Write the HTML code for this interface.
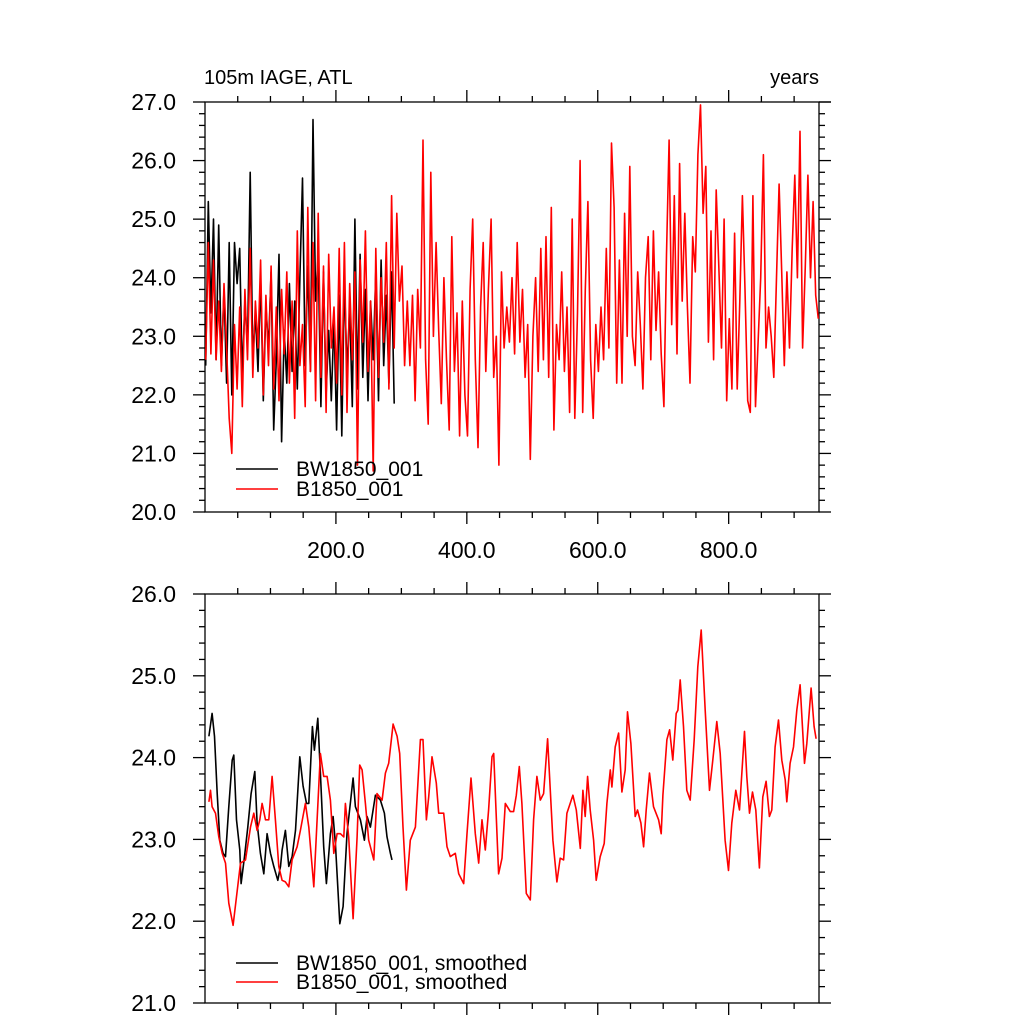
<!DOCTYPE html>
<html><head><meta charset="utf-8"><style>
html,body{margin:0;padding:0;background:#fff}
svg text{font-family:"Liberation Sans",sans-serif;fill:#000}
</style></head><body>
<svg id="chart" width="1024" height="1024" viewBox="0 0 1024 1024" xmlns="http://www.w3.org/2000/svg">
<text x="204" y="84" font-size="20">105m IAGE, ATL</text>
<text x="819" y="84" font-size="20" text-anchor="end">years</text>
<line x1="819" y1="102" x2="831" y2="102" stroke="#000" stroke-width="1.3"/>
<g id="topPanel"></g>
<g id="botPanel"></g>
<line x1="236" y1="469" x2="278" y2="469" stroke="#000" stroke-width="1.5"/>
<text x="296" y="476" font-size="21">BW1850_001</text>
<line x1="236" y1="489" x2="278" y2="489" stroke="#f00" stroke-width="1.5"/>
<text x="296" y="496" font-size="21">B1850_001</text>
<line x1="236" y1="963" x2="278" y2="963" stroke="#000" stroke-width="1.5"/>
<text x="296" y="970" font-size="21">BW1850_001, smoothed</text>
<line x1="236" y1="982" x2="278" y2="982" stroke="#f00" stroke-width="1.5"/>
<text x="296" y="989" font-size="21">B1850_001, smoothed</text>
</svg>
<script>
const rawStep = 4;
const redRaw = [
22.6,24.6,22.7,24.3,22.6,23.6,22.4,23.9,22.8,21.6,
21.0,23.2,22.1,23.5,21.8,23.8,22.6,24.5,22.3,23.6,
22.8,24.3,22.0,23.7,22.5,24.2,22.1,23.5,21.9,23.8,
22.7,24.1,22.2,23.6,21.6,24.8,22.5,23.2,21.8,25.2,
22.4,24.6,21.9,25.1,22.3,24.2,21.7,24.4,22.8,23.5,
22.2,24.5,22.0,24.6,21.7,23.9,22.6,24.1,20.8,24.3,
22.9,24.8,22.4,23.6,20.7,24.5,22.3,24.0,22.9,24.6,
22.1,25.4,22.8,25.1,23.6,24.2,22.5,23.6,22.5,23.7,
21.9,23.8,22.8,26.35,22.6,21.5,25.8,23.0,24.6,23.1,
21.85,24.0,22.6,21.4,24.7,22.4,23.4,21.3,23.6,22.0,
21.3,23.8,25.0,22.6,21.1,23.5,24.6,22.4,23.8,25.0,
22.3,23.0,20.8,24.1,22.8,23.5,22.9,24.0,22.7,24.6,
22.9,23.8,22.3,23.2,20.9,23.0,24.0,22.4,24.5,22.6,
24.7,22.3,25.2,21.4,23.2,22.6,24.1,22.4,23.5,21.7,
25.0,21.6,23.4,26.0,21.7,23.8,25.3,22.6,21.6,23.2,
22.4,23.5,22.6,24.5,22.8,26.3,25.2,22.2,24.3,22.2,
25.1,23.0,25.9,23.0,22.5,24.1,23.2,22.1,24.0,24.7,
22.6,24.8,23.1,24.1,22.7,21.8,24.4,26.35,23.2,25.4,
22.7,25.95,23.6,25.1,23.5,22.2,24.7,24.1,26.1,26.95,
25.1,25.9,22.9,24.8,22.6,25.5,24.2,22.8,25.0,21.9,
23.3,22.1,24.76,22.1,23.6,25.4,23.8,21.9,21.7,25.4,
21.8,22.9,24.0,26.1,22.8,23.5,23.0,22.3,24.0,25.6,
24.1,22.5,24.1,22.8,24.5,25.75,24.0,26.5,22.8,24.2,
25.75,24.0,25.3,23.7,23.3];
const blackRaw = [
22.5,25.3,23.4,25.0,22.6,24.9,22.5,23.8,22.2,24.6,
22.0,24.6,23.9,24.5,22.3,23.6,22.8,25.8,22.6,23.4,
22.4,24.0,21.9,23.5,22.8,24.1,21.4,22.6,24.4,21.2,
23.1,22.2,23.9,22.4,23.6,22.1,24.0,25.7,22.5,24.2,
22.4,26.7,23.6,24.4,21.8,24.1,22.0,23.1,21.9,23.3,
21.4,23.7,21.3,24.0,22.4,23.5,21.8,25.0,22.1,24.4,
22.3,23.8,21.9,23.6,22.6,24.1,21.9,24.3,22.5,23.7,
22.2,24.1,21.85];
const redSmYears = [5.9,8.4,10.9,16,21.1,26.2,31.3,36.4,43,48.1,54.2,61.8,69.5,74.6,79.6,83.7,87.3,92.4,97.5,102.5,107.6,112.7,117.8,122.9,128,133.1,140.7,145.8,153.4,158.5,166.2,171.2,176.3,181.4,186.5,191.6,196.7,201.8,206.9,212,214.5,219.6,226.2,232.3,236.4,240,245,250.1,257.8,262.8,270.5,275.6,280.7,287.3,293.4,297.4,302.5,307.6,313.7,321.4,329,333.1,338.2,341.7,346.8,353.4,357,364.6,369.7,374.8,382.4,387.5,395.2,400.2,406.4,413,418.1,423.2,428.2,433.3,438.4,441,448.6,453.7,458.8,466.4,471.5,475.6,480.1,484.2,490.8,496.9,502,507.1,512.2,517.3,523.4,531.5,537.6,542.7,547.8,552.9,562.1,567.2,573.3,577.3,580.9,584.5,588.5,593.6,597.7,603.8,609.9,614,619.1,621.6,626.7,631.8,636.9,642,645.5,650.6,657.2,660.8,665.9,670,674,679.1,685.2,692.9,696.9,699.5,705.6,709.7,714.7,719.8,722.4,725.9,731,736.1,741.2,747.3,752.9,758,764.1,770.7,775.8,781.9,787,794.6,799.7,804.8,810.9,816.5,824.2,827.7,831.8,836.4,841.5,847,852.2,857.2,862.3,865.9,871,876.1,881.2,886.4,888.8,893.9,899,904.1,909.2,915.8,919.4,926,930.5,933.6];
const redSmVals = [23.46,23.6,23.4,23.32,23.03,22.83,22.71,22.22,21.95,22.3,22.71,22.75,23.15,23.32,23.11,23.24,23.44,23.24,23.24,23.77,23.24,22.67,22.5,22.48,22.42,22.75,22.91,23.11,23.44,23.15,22.42,23.24,24.05,23.77,23.77,23.48,22.83,23.07,23.07,23.03,23.44,23.03,22.03,23.03,23.91,23.85,23.44,22.99,22.75,23.56,23.48,23.81,23.93,24.41,24.26,24.05,23.15,22.38,22.99,23.15,24.22,24.22,23.24,23.52,24.01,23.69,23.32,23.32,22.91,22.79,22.83,22.58,22.46,23.07,23.75,23.07,22.71,23.24,22.87,23.36,24.01,24.05,22.58,22.77,23.44,23.34,23.34,23.54,23.89,23.44,22.34,22.26,23.24,23.77,23.48,23.56,24.23,22.99,22.48,22.77,22.75,23.32,23.54,23.36,22.89,23.6,23.28,23.77,23.36,22.99,22.5,22.79,22.95,23.44,23.85,23.64,24.13,24.3,23.58,23.85,24.56,24.17,23.28,23.36,23.2,22.91,23.36,23.81,23.4,23.24,23.07,23.54,24.22,24.34,23.97,24.54,24.58,24.95,24.38,23.6,23.48,24.22,25.11,25.56,24.58,23.6,23.97,24.44,24.05,22.99,22.62,23.2,23.6,23.36,24.32,23.77,23.32,23.58,23.36,22.65,23.52,23.71,23.28,23.36,24.13,24.46,23.97,23.73,23.46,23.93,24.13,24.58,24.89,23.93,24.17,24.85,24.38,24.23];
const blackSmYears = [5.9,10.9,14.5,18.6,22.6,27.7,31.3,36.4,41.5,44,48.1,53.2,55.2,60.3,65.4,70.5,76.1,79.6,84.7,89.8,94.9,100,105.1,111.2,115.3,117.8,122.9,128,133.1,138.2,144.8,149.9,155,158.5,164.1,167.2,172.3,176.3,181.4,185.5,191.6,195.7,199.2,205.9,211,217,226.2,229.8,237.4,243.5,247.6,252.7,260.3,268,274.1,278.1,283.2,285.7];
const blackSmVals = [24.26,24.54,24.26,23.56,22.99,22.83,22.79,23.4,23.97,24.03,23.24,22.87,22.46,22.79,23.15,23.56,23.83,23.2,22.83,22.58,23.07,22.83,22.67,22.5,22.67,22.87,23.11,22.67,22.79,23.11,24.01,23.65,23.44,23.44,24.38,24.09,24.48,23.81,22.91,22.46,23.07,23.28,22.95,21.97,22.18,23.07,23.75,23.4,23.24,22.99,23.28,23.15,23.54,23.48,23.32,23.03,22.83,22.75];
const xTickVals = [200,400,600,800];
const xTickLabels = ["200.0","400.0","600.0","800.0"];
const topYTicks = [20,21,22,23,24,25,26,27];
const topYLabels = ["20.0","21.0","22.0","23.0","24.0","25.0","26.0","27.0"];
const botYTicks = [21,22,23,24,25,26];
const botYLabels = ["21.0","22.0","23.0","24.0","25.0","26.0"];

const NS = "http://www.w3.org/2000/svg";
const X0 = 205, X1 = 819, YR0 = 0, YR1 = 938;
function sx(yr){ return X0 + (yr - YR0) * (X1 - X0) / (YR1 - YR0); }
function mk(parent, tag, attrs){ const e = document.createElementNS(NS, tag); for (const k in attrs) e.setAttribute(k, attrs[k]); parent.appendChild(e); return e; }

function panel(g, ptop, pbottom, ymin, ymax, yticks, ylabels, showX){
  const sy = v => pbottom - (v - ymin) * (pbottom - ptop) / (ymax - ymin);
  const ax = mk(g, 'g', {stroke:'#000','stroke-width':'1.3',fill:'none'});
  
  
  mk(ax, 'rect', {x:X0, y:ptop, width:X1-X0, height:pbottom-ptop});
  for (let v = ymin; v <= ymax + 1e-6; v += 0.2){
    const major = Math.abs(v - Math.round(v)) < 1e-6;
    const L = major ? 12 : 6, y = sy(v);
    mk(ax, 'line', {x1:X0-L, y1:y, x2:X0, y2:y});
    mk(ax, 'line', {x1:X1, y1:y, x2:X1+L, y2:y});
  }
  for (let yr = 50; yr < YR1; yr += 50){
    const major = yr % 200 === 0;
    const L = major ? 12 : 6, x = sx(yr);
    mk(ax, 'line', {x1:x, y1:pbottom, x2:x, y2:pbottom+L});
    mk(ax, 'line', {x1:x, y1:ptop-L, x2:x, y2:ptop});
  }
  yticks.forEach((v,i)=>{
    const t = mk(g, 'text', {x:176, y:sy(v)+8, 'font-size':23, 'text-anchor':'end'});
    t.textContent = ylabels[i];
    
    
  });
  if (showX) xTickVals.forEach((v,i)=>{
    const t = mk(g, 'text', {x:sx(v), y:pbottom+46, 'font-size':23, 'text-anchor':'middle'});
    t.textContent = xTickLabels[i];
    
    
  });
  return sy;
}
function series(g, xs, ys, sy, color, name){
  const d = ys.map((v,i)=>(i?'L':'M') + sx(xs[i]).toFixed(1) + ',' + sy(v).toFixed(1)).join('');
  const p = mk(g, 'path', {d:d, stroke:color, 'stroke-width':1.6, fill:'none', 'stroke-linejoin':'round'});
  
  
}
const topPanel = document.getElementById('topPanel');
const syT = panel(topPanel, 102, 512, 20, 27, topYTicks, topYLabels, true);
series(topPanel, blackRaw.map((v,i)=>i*rawStep+1), blackRaw, syT, '#000', 'bw1850-line');
series(topPanel, redRaw.map((v,i)=>i*rawStep+1), redRaw, syT, '#f00', 'b1850-line');
const botPanel = document.getElementById('botPanel');
const syB = panel(botPanel, 594, 1003, 21, 26, botYTicks, botYLabels, false);
series(botPanel, blackSmYears, blackSmVals, syB, '#000', 'bw1850-smoothed-line');
series(botPanel, redSmYears, redSmVals, syB, '#f00', 'b1850-smoothed-line');
</script>
</body></html>
